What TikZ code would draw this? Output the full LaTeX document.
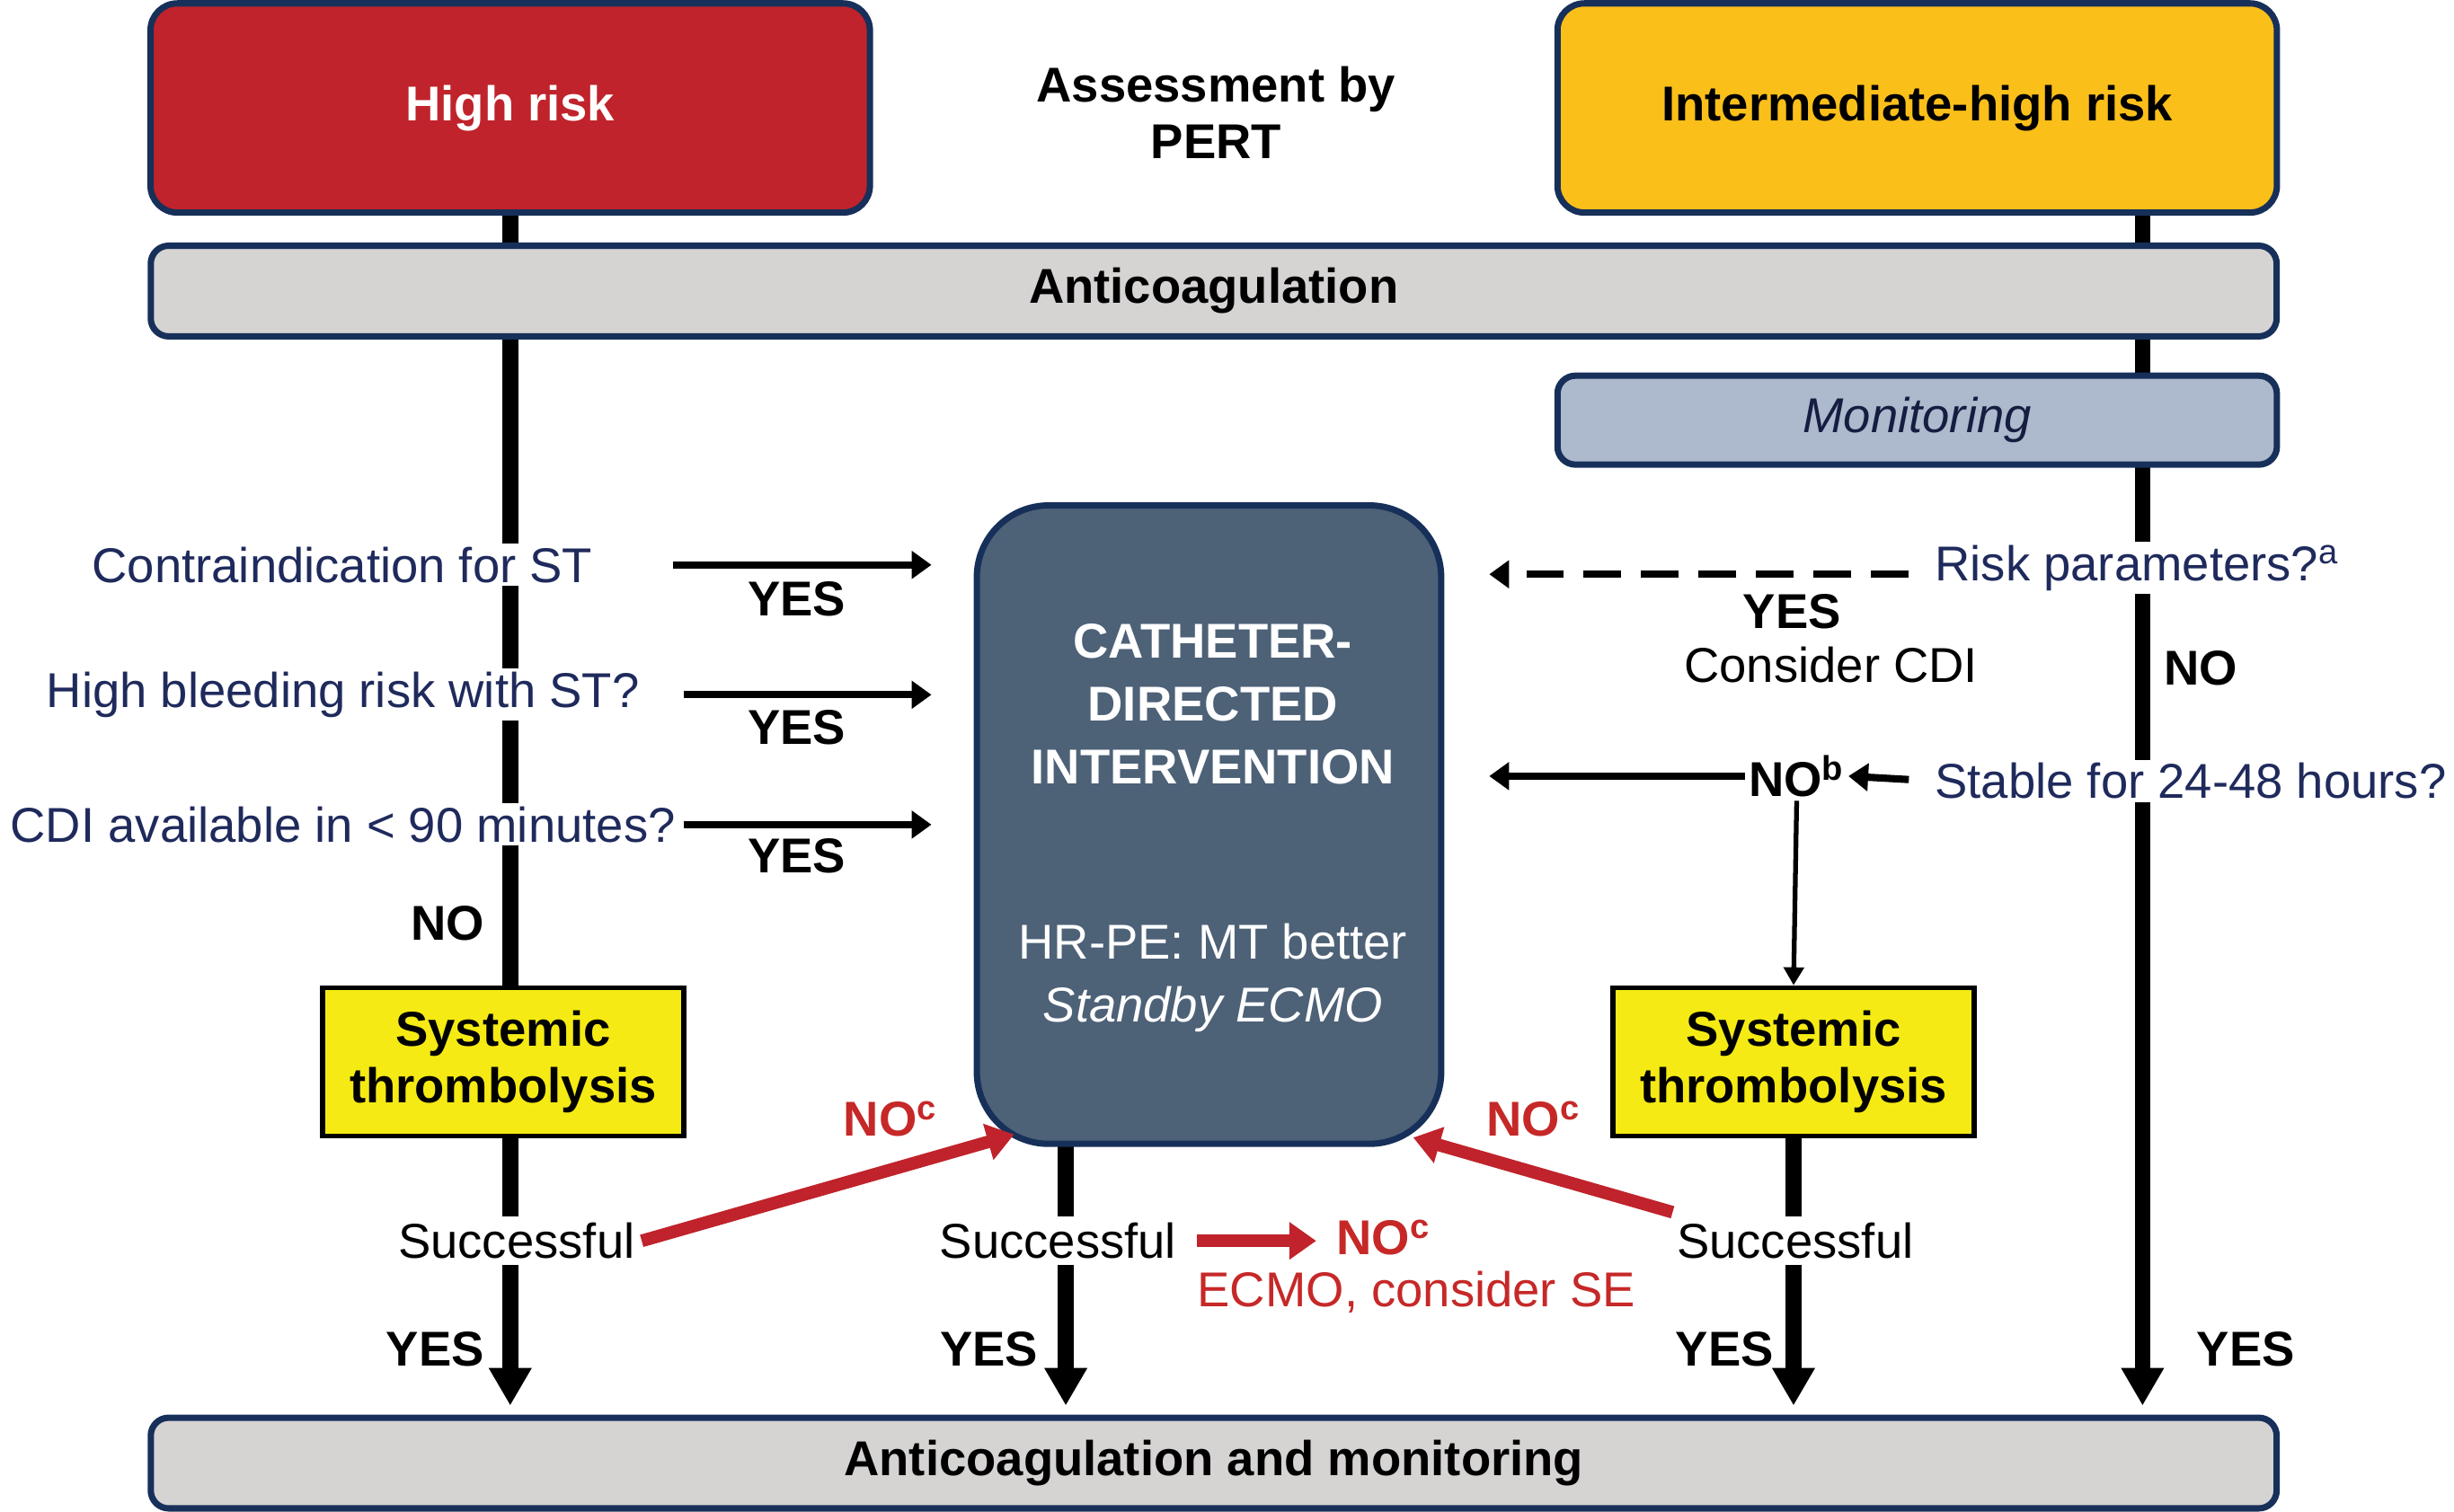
\documentclass[tikz,border=0pt]{standalone}
\usepackage{fontspec}
\setmainfont{Liberation Sans}
\usetikzlibrary{arrows.meta, positioning, calc, backgrounds}
\definecolor{navyline}{HTML}{17305A}
\definecolor{navytext}{HTML}{1F2A5C}
\definecolor{hrred}{HTML}{C0232B}
\definecolor{ihyellow}{HTML}{FBBF1A}
\definecolor{bargray}{HTML}{D6D3D3}
\definecolor{monblue}{HTML}{ADB9CC}
\definecolor{cdiblue}{HTML}{4D6177}
\definecolor{styellow}{HTML}{F5EA14}
\definecolor{nored}{HTML}{C62828}

\begin{document}
\begin{tikzpicture}[
  x=0.01742cm, y=-0.01742cm,
  every node/.style={font=\fontsize{15.5}{18}\selectfont},
  riskbox/.style={rectangle, draw=navyline, line width=2pt, rounded corners=0.3cm, minimum width=8.01cm, minimum height=2.33cm, font=\fontsize{15.5}{18}\selectfont\bfseries},
  bar/.style={rectangle, draw=navyline, line width=2pt, rounded corners=0.2cm, fill=bargray, minimum width=23.67cm, minimum height=1.01cm, font=\fontsize{15.5}{18}\selectfont\bfseries},
  stbox/.style={rectangle, draw=black, line width=1.5pt, fill=styellow, minimum width=4.02cm, minimum height=1.65cm, align=center, font=\fontsize{15.5}{18}\selectfont\bfseries},
  question/.style={text=navytext, fill=white, inner sep=1pt},
  lbl/.style={font=\fontsize{15.5}{18}\selectfont\bfseries, inner sep=1pt},
  redlbl/.style={text=nored, font=\fontsize{15.5}{18}\selectfont\bfseries, inner sep=1pt},
  trunk/.style={line width=5pt, -{Triangle[length=0.42cm, width=0.45cm]}},
  trunkplain/.style={line width=5pt},
  arr/.style={line width=2.3pt, -{Triangle[length=0.22cm, width=0.3cm]}},
  redarr/.style={draw=hrred, line width=4pt, -{Triangle[length=0.3cm, width=0.4cm]}}
]
  \useasboundingbox (0,0) rectangle (1568,966);

  % Top boxes
  \node[riskbox, fill=hrred, text=white] (hr) at (326,69) {High risk};
  \node[riskbox, fill=ihyellow] (ih) at (1225,69) {Intermediate-high risk};
  \node[lbl, align=center] (pert) at (777,72) {Assessment by\\PERT};

  % Bars
  \node[bar] (anticoag) at (775.5,186) {Anticoagulation};
  \node[rectangle, draw=navyline, line width=2pt, rounded corners=0.2cm, fill=monblue, minimum width=8.01cm, minimum height=0.99cm, font=\fontsize{15.5}{18}\selectfont\itshape, text=navytext!70!black] (monit) at (1225,268.5) {Monitoring};
  \node[bar] (bottom) at (775.5,935) {Anticoagulation and monitoring};

  % Central box
  \node[rectangle, draw=navyline, line width=2pt, rounded corners=0.8cm, fill=cdiblue, minimum width=5.17cm, minimum height=7.11cm] (cdi) at (772.5,527) {};
  \node[text=white, align=center, font=\fontsize{15.5}{18}\selectfont\bfseries] (cdititle) at (775,450) {CATHETER-\\[2pt]DIRECTED\\[2pt]INTERVENTION};
  \node[text=white, align=center] (cdinote) at (775,625) {HR-PE: MT better\\[2pt]\textit{Standby ECMO}};

  % Thrombolysis boxes
  \node[stbox] (st1) at (321.5,678.5) {Systemic\\thrombolysis};
  \node[stbox] (st2) at (1146,678.5) {Systemic\\thrombolysis};

  % Left questions
  \node[question, anchor=east] (q1) at (381,361) {Contraindication for ST};
  \node[question, anchor=east] (q2) at (411,444) {High bleeding risk with ST?};
  \node[question, anchor=east] (q3) at (434,527) {CDI available in < 90 minutes?};
  \node[lbl] (yes1) at (509,383) {YES};
  \node[lbl] (yes2) at (509,465) {YES};
  \node[lbl] (yes3) at (509,547) {YES};
  \node[lbl] (no1) at (286,590) {NO};

  % Right questions
  \node[question, anchor=west] (rp) at (1234,363) {Risk parameters?\textsuperscript{a}};
  \node[lbl] (yes4) at (1145,391) {YES};
  \node[inner sep=1pt] (cons) at (1170,425) {Consider CDI};
  \node[lbl] (no2) at (1406,427) {NO};
  \node[question, anchor=west] (stable) at (1234,499) {Stable for 24-48 hours?};
  \node[lbl] (nob) at (1148,496) {NO\textsuperscript{b}};

  % Outcome row
  \node[fill=white, inner sep=2pt] (succ1) at (330,793) {Successful};
  \node[fill=white, inner sep=2pt] (succ2) at (676,793) {Successful};
  \node[fill=white, inner sep=2pt] (succ3) at (1147,793) {Successful};
  \node[redlbl] (noc1) at (569,715) {NO\textsuperscript{c}};
  \node[redlbl] (noc2) at (884,791) {NO\textsuperscript{c}};
  \node[redlbl] (noc3) at (980,715) {NO\textsuperscript{c}};
  \node[text=nored, inner sep=1pt] (ecmo) at (905,826) {ECMO, consider SE};
  \node[lbl] (yes5) at (278,862) {YES};
  \node[lbl] (yes6) at (632,862) {YES};
  \node[lbl] (yes7) at (1102,862) {YES};
  \node[lbl] (yes8) at (1435,862) {YES};

  \coordinate (rtop) at (1369,136);
  \coordinate (mtop) at (681,731);
  \coordinate (cdiin1) at (648,725);
  \coordinate (cdiin3) at (903,727);

  % Trunk lines behind everything
  \begin{scope}[on background layer]
    \draw[trunkplain] (hr.south) -- (hr.south |- st1.north);
    \draw[trunk, shorten >=0.1cm] (hr.south |- st1.south) -- (hr.south |- bottom.north);
    \draw[trunk, shorten >=0.1cm] (mtop) -- (mtop |- bottom.north);
    \draw[trunk, shorten >=0.1cm] (st2.south) -- (st2.south |- bottom.north);
    \draw[trunk, shorten >=0.1cm] (rtop) -- (rtop |- bottom.north);
  \end{scope}

  % Question arrows
  \draw[arr, shorten <=0.85cm, shorten >=0.47cm] (q1.east) -- (q1.east -| cdi.west);
  \draw[arr, shorten <=0.45cm, shorten >=0.47cm] (q2.east) -- (q2.east -| cdi.west);
  \draw[arr, shorten <=0.05cm, shorten >=0.47cm] (q3.east) -- (q3.east -| cdi.west);
  \draw[arr, dash pattern=on 0.42cm off 0.22cm, shorten <=0.25cm, shorten >=0.5cm] ($(rp.west)+(0,4)$) -- ($(rp.west -| cdi.east)+(0,4)$);
  \draw[arr, shorten <=0.25cm] (stable.west) -- (nob.east);
  \draw[arr, shorten >=0.5cm] (nob.west) -- (nob.west -| cdi.east);
  \draw[line width=1.5pt, -{Triangle[length=0.2cm, width=0.22cm]}] (nob.south) -- (st2.north);

  % Failure arrows
  \draw[redarr] (succ1.east) -- (cdiin1);
  \draw[redarr, shorten <=0.15cm] (succ2.east) -- ($(succ2.east)+(85,0)$);
  \draw[redarr, shorten <=0.15cm] ($(succ3.north west)+(10,0)$) -- (cdiin3);
\end{tikzpicture}
\end{document}
